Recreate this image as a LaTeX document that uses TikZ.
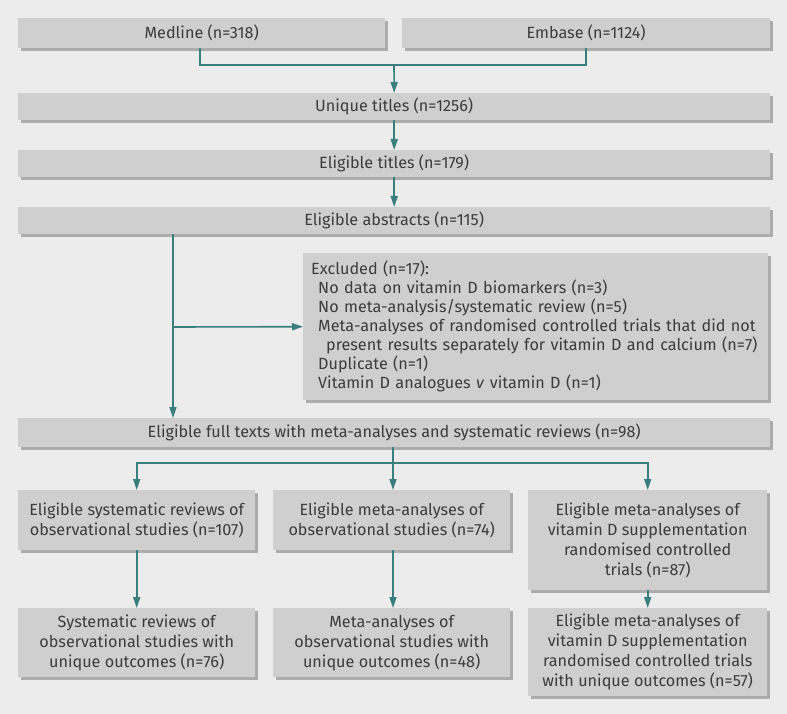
\documentclass[tikz,border=0pt]{standalone}
\usepackage{fontspec}
\setmainfont{Fira Sans}
\usetikzlibrary{positioning,arrows.meta,shadows}

\definecolor{bggray}{RGB}{236,236,236}
\definecolor{boxgray}{RGB}{207,207,207}
\definecolor{shadowgray}{RGB}{172,172,172}
\definecolor{textgray}{RGB}{60,60,60}
\definecolor{teal}{RGB}{58,126,126}

\tikzset{
  box/.style={fill=boxgray, anchor=north west, inner sep=0pt, align=center,
    general shadow={fill=shadowgray, shadow xshift=2.5pt, shadow yshift=-2.5pt}},
  groupbox/.style={box, font=\fontsize{16.2}{20}\selectfont},
  link/.style={draw=teal, line width=1.6pt},
  arrow/.style={link, -{Triangle[width=7pt,length=11pt]}}
}

\begin{document}
\begin{tikzpicture}[x=1pt, y=-1pt, font=\fontsize{16.2}{19}\selectfont, text=textgray]
  \useasboundingbox[fill=bggray] (0,0) rectangle (787,714);

  % searches
  \node[box, minimum width=367pt, minimum height=30pt] (medline) at (18,18) {Medline (n=318)};
  \node[box, minimum width=368pt, minimum height=30pt] (embase) at (402,18) {Embase (n=1124)};

  % screening
  \node[box, minimum width=752pt, minimum height=27pt] (unique) at (18,93) {Unique titles (n=1256)};
  \node[box, minimum width=752pt, minimum height=27pt] (titles) at (18,150) {Eligible titles (n=179)};
  \node[box, minimum width=752pt, minimum height=27pt] (abstracts) at (18,207) {Eligible abstracts (n=115)};
  \node[box, align=left, text width=449pt, inner xsep=8pt, minimum height=147pt] (excluded) at (303,253)
    {Excluded (n=17):\\
     \hspace*{7pt}No data on vitamin D biomarkers (n=3)\\
     \hspace*{7pt}No meta-analysis/systematic review (n=5)\\
     \hspace*{7pt}Meta-analyses of randomised controlled trials that did not\\
     \hspace*{15pt}present results separately for vitamin D and calcium (n=7)\\
     \hspace*{7pt}Duplicate (n=1)\\
     \hspace*{7pt}Vitamin D analogues \textit{v} vitamin D (n=1)};
  \node[box, minimum width=752pt, minimum height=29pt] (fulltexts) at (18,418)
    {Eligible full texts with meta-analyses and systematic reviews (n=98)};

  % eligible groups
  \node[groupbox, minimum width=237pt, minimum height=60pt] (sysrev) at (18,490)
    {Eligible systematic reviews of\\observational studies (n=107)};
  \node[groupbox, minimum width=237pt, minimum height=60pt] (metaobs) at (273,490)
    {Eligible meta-analyses of\\observational studies (n=74)};
  \node[groupbox, minimum width=239pt, minimum height=100pt] (metarct) at (528,490)
    {Eligible meta-analyses of\\vitamin D supplementation\\randomised controlled\\trials (n=87)};

  % unique outcomes
  \node[groupbox, minimum width=237pt, minimum height=69pt] (sysuniq) at (18,608)
    {Systematic reviews of\\observational studies with\\unique outcomes (n=76)};
  \node[groupbox, minimum width=237pt, minimum height=69pt] (obsuniq) at (273,608)
    {Meta-analyses of\\observational studies with\\unique outcomes (n=48)};
  \node[groupbox, minimum width=239pt, minimum height=88pt] (rctuniq) at (528,608)
    {Eligible meta-analyses of\\vitamin D supplementation\\randomised controlled trials\\with unique outcomes (n=57)};

  \coordinate (merge) at (394,65);
  \coordinate (split) at (173,327);
  \coordinate (branch) at (393,463);

  \draw[link] (medline.south -| 200,0) |- (merge) -| (embase.south);
  \draw[arrow] (merge) -- (unique.north);
  \draw[arrow] (unique.south) -- (titles.north);
  \draw[arrow] (titles.south) -- (abstracts.north);
  \draw[arrow] (abstracts.south -| split) -- (fulltexts.north -| split);
  \draw[arrow] (split) -- (excluded.west);
  \draw[link] (fulltexts.south -| branch) -- (branch);
  \draw[arrow] (branch) -| (sysrev.north);
  \draw[arrow] (branch) -- (metaobs.north -| branch);
  \draw[arrow] (branch) -| (metarct.north);
  \draw[arrow] (sysrev.south) -- (sysuniq.north);
  \draw[arrow] (metaobs.south -| branch) -- (obsuniq.north -| branch);
  \draw[arrow] (metarct.south) -- (rctuniq.north);
\end{tikzpicture}
\end{document}
